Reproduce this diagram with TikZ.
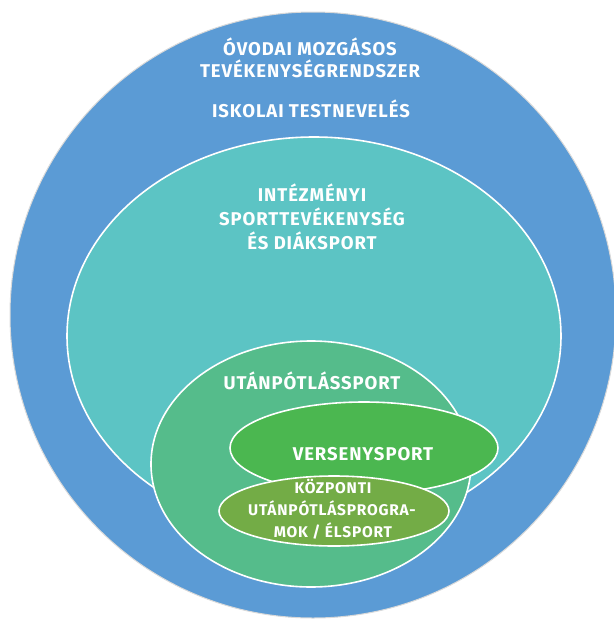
\documentclass[tikz,border=0pt]{standalone}
\usepackage{fontspec}
\setmainfont{Fira Sans}
\newfontfamily\areafont{Fira Sans}[LetterSpace=5]
\usetikzlibrary{positioning}

\definecolor{outerblue}{HTML}{5B9BD5}
\definecolor{schoolteal}{HTML}{5CC4C4}
\definecolor{youthgreen}{HTML}{55BC8B}
\definecolor{compgreen}{HTML}{4BB750}
\definecolor{elitegreen}{HTML}{73AC46}

\begin{document}
\begin{tikzpicture}[x=1pt,y=-1pt,
    area/.style={draw=white,line width=1.6pt},
    areatext/.style={text=white,inner sep=0pt,anchor=base,font=\areafont\bfseries\fontsize{18.5}{20}\selectfont},
    smalltext/.style={areatext,font=\areafont\bfseries\fontsize{15.5}{17}\selectfont}]
    \useasboundingbox (0,0) rectangle (614,625);

    % nested areas
    \fill[outerblue,draw=black!15,line width=1pt] (313,315) circle (303);
    \filldraw[area,fill=schoolteal] (314,336) ellipse (247 and 199);
    \filldraw[area,fill=youthgreen] (311,464) ellipse (160 and 123);
    \filldraw[area,fill=compgreen] (364,448) ellipse (134 and 46);
    \filldraw[area,fill=elitegreen] (334,511) ellipse (115 and 35);

    % texts
    \node (ovoda1) [areatext] at (310,55) {ÓVODAI MOZGÁSOS};
    \node (ovoda2) [areatext] at (310,77) {TEVÉKENYSÉGRENDSZER};
    \node (iskola) [areatext] at (311,117) {ISKOLAI TESTNEVELÉS};
    \node (intez1) [areatext] at (312,201) {INTÉZMÉNYI};
    \node (intez2) [areatext] at (312,225) {SPORTTEVÉKENYSÉG};
    \node (intez3) [areatext] at (312,249) {ÉS DIÁKSPORT};
    \node (utanp) [areatext] at (312,389) {UTÁNPÓTLÁSSPORT};
    \node (verseny) [areatext] at (363,460) {VERSENYSPORT};
    \node (kozp1) [smalltext] at (333,493) {KÖZPONTI};
    \node (kozp2) [smalltext] at (332,515) {UTÁNPÓTLÁSPROGRA-};
    \node (kozp3) [smalltext] at (333,537) {MOK / ÉLSPORT};
\end{tikzpicture}
\end{document}
